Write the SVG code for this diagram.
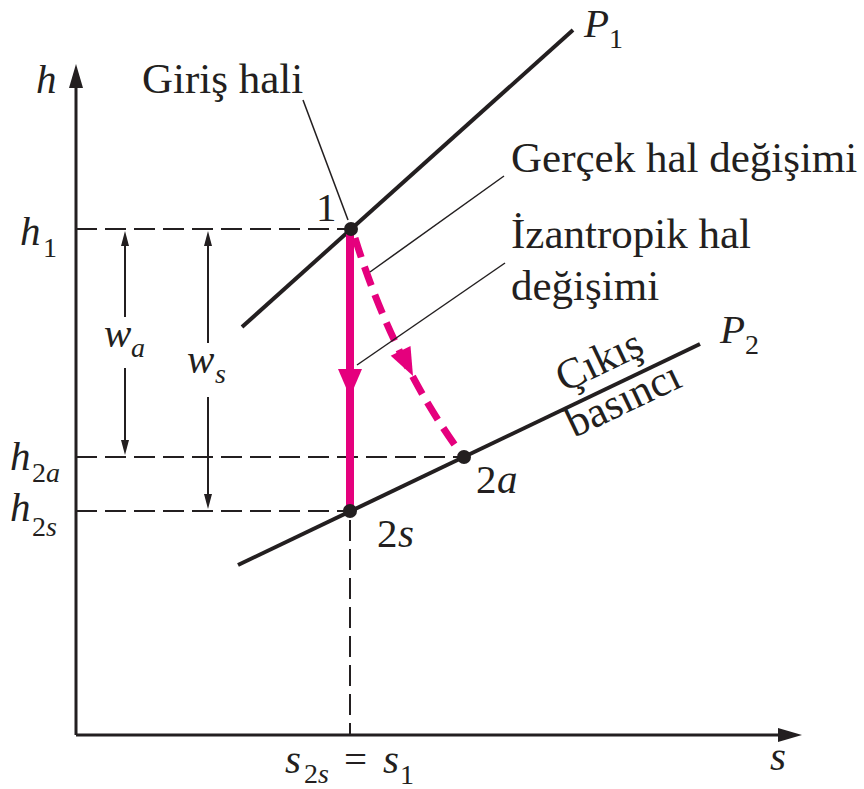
<svg xmlns="http://www.w3.org/2000/svg" width="864" height="789" viewBox="0 0 864 789">
<style>
text{font-family:"Liberation Serif","Times New Roman",serif;fill:#231f20}
.lbl{font-size:41px}
.word{font-size:43px}
.it{font-style:italic}
.sub{font-size:28px}
.axis{stroke:#231f20;stroke-width:3;fill:none}
.iso{stroke:#231f20;stroke-width:4;fill:none}
.dash{stroke:#231f20;stroke-width:2;stroke-dasharray:21 8;fill:none}
.lead{stroke:#231f20;stroke-width:1.5;fill:none}
.dim{stroke:#231f20;stroke-width:2;fill:none}
.ah{fill:#231f20}
.pink{stroke:#e5007d;stroke-width:8;fill:none}
.pinkd{stroke:#e5007d;stroke-width:7;fill:none;stroke-dasharray:20 10}
.pah{fill:#e5007d}
.dot{fill:#231f20}
</style>
<rect width="864" height="789" fill="#ffffff"/>

<g id="axes">
  <line class="axis" x1="76" y1="735" x2="76" y2="82"/>
  <polygon class="ah" points="76,64 69,88 83,88"/>
  <line class="axis" x1="76" y1="735" x2="784" y2="735"/>
  <polygon class="ah" points="802,735 778,728 778,742"/>
  <text class="lbl it" x="36" y="93">h</text>
  <text class="lbl it" x="770" y="770">s</text>
</g>

<g id="guides">
  <line class="dash" x1="76" y1="229" x2="350" y2="229"/>
  <line class="dash" x1="76" y1="457" x2="464" y2="457"/>
  <line class="dash" x1="76" y1="511" x2="350" y2="511"/>
  <line class="dash" x1="350" y1="520" x2="350" y2="735"/>
</g>

<g id="isobar-P1">
  <line class="iso" x1="242" y1="327" x2="573" y2="30"/>
  <text class="lbl it" x="584" y="37">P</text>
  <text class="sub" x="609" y="48">1</text>
</g>

<g id="isobar-P2">
  <line class="iso" x1="238" y1="565" x2="700" y2="344"/>
  <text class="lbl it" x="720" y="343">P</text>
  <text class="sub" x="745" y="354">2</text>
  <text class="word" transform="translate(605,373) rotate(-25.4)" text-anchor="middle">Çıkış</text>
  <text class="word" transform="translate(629,412) rotate(-25.4)" text-anchor="middle">basıncı</text>
</g>

<g id="connectors">
  <line class="pink" x1="350" y1="229" x2="350" y2="511"/>
  <polygon class="pah" points="350,397 338,369 362,369"/>
  <path class="pinkd" d="M355,238 Q393,360.5 462,455"/>
  <polygon class="pah" points="413,376 410.5,346 390.7,355.8"/>
  <line class="lead" x1="303" y1="100" x2="348" y2="220"/>
  <line class="lead" x1="504" y1="176" x2="370" y2="272"/>
  <line class="lead" x1="505" y1="263" x2="357" y2="365"/>
</g>

<g id="state-1">
  <circle class="dot" cx="351" cy="229" r="7"/>
  <text class="lbl" x="316" y="221">1</text>
</g>
<g id="state-2s">
  <circle class="dot" cx="350" cy="511" r="7"/>
  <text class="lbl" x="377" y="547">2</text>
  <text class="lbl it" x="398" y="547">s</text>
</g>
<g id="state-2a">
  <circle class="dot" cx="464" cy="457" r="7"/>
  <text class="lbl" x="476" y="493">2</text>
  <text class="lbl it" x="497" y="493">a</text>
</g>

<g id="label-giris">
  <text class="word" x="142" y="93">Giriş hali</text>
</g>
<g id="label-gercek">
  <text class="word" x="511" y="172">Gerçek hal değişimi</text>
</g>
<g id="label-izantropik">
  <text class="word" x="511" y="248">İzantropik hal</text>
  <text class="word" x="511" y="300">değişimi</text>
</g>

<g id="h-labels">
  <text class="lbl it" x="20" y="245">h</text>
  <text class="sub" x="43" y="257">1</text>
  <text class="lbl it" x="10" y="470">h</text>
  <text class="sub" x="32" y="482">2</text>
  <text class="sub it" x="46" y="482">a</text>
  <text class="lbl it" x="10" y="521">h</text>
  <text class="sub" x="32" y="536">2</text>
  <text class="sub it" x="46" y="536">s</text>
</g>

<g id="dim-wa">
  <line class="dim" x1="125" y1="242" x2="125" y2="317"/>
  <polygon class="ah" points="125,231 121,246 129,246"/>
  <line class="dim" x1="125" y1="368" x2="125" y2="444"/>
  <polygon class="ah" points="125,455 121,440 129,440"/>
  <text class="lbl it" x="104" y="347">w</text>
  <text class="sub it" x="131" y="357">a</text>
</g>
<g id="dim-ws">
  <line class="dim" x1="208" y1="242" x2="208" y2="343"/>
  <polygon class="ah" points="208,231 204,246 212,246"/>
  <line class="dim" x1="208" y1="397" x2="208" y2="498"/>
  <polygon class="ah" points="208,509 204,494 212,494"/>
  <text class="lbl it" x="187" y="373">w</text>
  <text class="sub it" x="215" y="383">s</text>
</g>

<g id="s-label">
  <text class="lbl it" x="285" y="773">s</text>
  <text class="sub" x="304" y="783">2</text>
  <text class="sub it" x="318" y="783">s</text>
  <text class="lbl" x="344" y="773">=</text>
  <text class="lbl it" x="383" y="773">s</text>
  <text class="sub" x="400" y="784">1</text>
</g>
</svg>
